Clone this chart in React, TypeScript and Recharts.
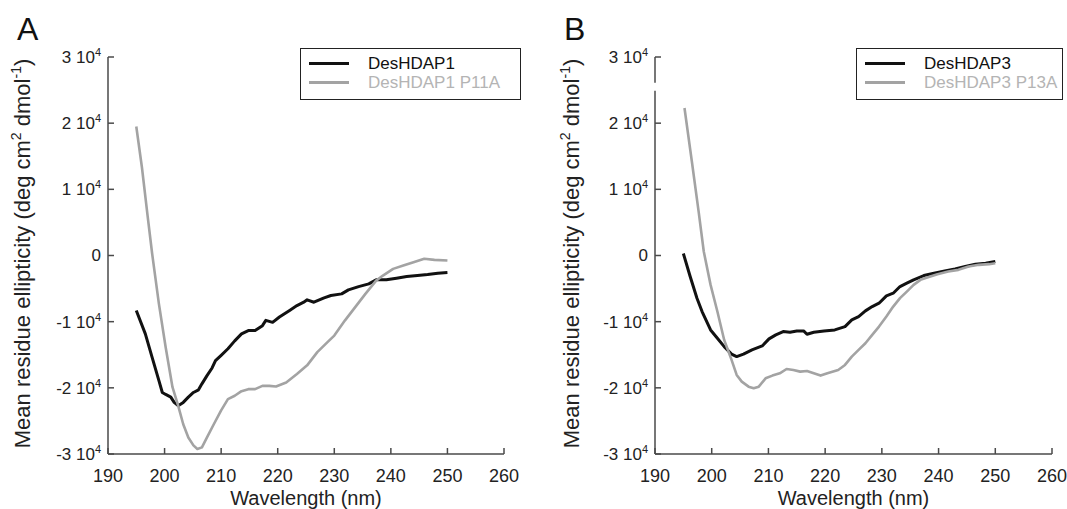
import React from 'react';
import { LineChart, Line, XAxis, YAxis, Legend, ReferenceLine } from 'recharts';

const FONT = '"Liberation Sans", Arial, Helvetica, sans-serif';
const AXIS = '#4a4a4a';
const BLACK = '#111111';
const GREY = '#a3a3a3';

const xTicks = [190, 200, 210, 220, 230, 240, 250, 260];
const yTicks = [-30000, -20000, -10000, 0, 10000, 20000, 30000];

// Panel A: DesHDAP1 (black)
const wlA1 = [195.0, 196.6, 197.8, 199.0, 199.6, 200.2, 201.1, 201.7, 202.4, 203.3, 204.2, 205.1, 206.0, 206.6, 207.5, 208.4, 209.0, 210.0, 211.2, 212.4, 213.6, 214.8, 216.0, 217.3, 217.9, 219.1, 220.3, 222.1, 223.4, 224.6, 225.2, 226.4, 228.2, 229.4, 231.3, 232.5, 234.3, 236.1, 237.4, 239.2, 241.0, 242.8, 244.7, 246.5, 248.3, 250.0];
const cdA1 = [-8300, -11850, -15400, -18900, -20700, -21000, -21400, -22200, -22700, -22200, -21400, -20700, -20300, -19400, -18150, -17000, -15900, -15100, -14100, -12900, -11850, -11350, -11350, -10600, -9800, -10100, -9300, -8300, -7570, -7060, -6700, -7060, -6400, -6050, -5800, -5200, -4700, -4290, -3680, -3680, -3430, -3180, -3030, -2870, -2670, -2570];

// Panel A: DesHDAP1 P11A (grey)
const wlA2 = [195.0, 196.0, 197.0, 197.8, 199.0, 200.2, 201.4, 202.4, 203.3, 204.2, 205.1, 205.8, 206.6, 207.5, 208.7, 210.0, 211.2, 212.4, 213.6, 214.8, 216.0, 217.3, 218.5, 219.7, 221.5, 223.4, 225.2, 227.0, 228.8, 230.0, 231.9, 233.7, 235.5, 237.4, 238.6, 240.4, 242.2, 244.0, 245.9, 247.7, 250.0];
const cdA2 = [19500, 13300, 6000, 300, -7300, -13900, -19900, -22700, -25500, -27500, -28700, -29250, -29000, -27500, -25500, -23400, -21700, -21200, -20500, -20200, -20200, -19700, -19700, -19800, -19200, -17900, -16600, -14600, -13100, -12100, -9800, -7800, -5800, -3800, -3030, -2020, -1510, -1010, -500, -660, -760];

// Panel B: DesHDAP3 (black)
const wlB1 = [195.0, 196.2, 197.4, 198.3, 199.8, 201.0, 202.2, 203.5, 204.4, 205.6, 207.1, 208.9, 210.1, 211.3, 212.6, 213.8, 215.0, 216.2, 216.8, 218.0, 219.8, 221.7, 223.5, 224.7, 225.9, 227.1, 228.3, 229.5, 230.8, 232.0, 233.2, 234.4, 235.6, 237.4, 239.2, 241.1, 242.9, 244.7, 246.5, 248.3, 250.0];
const cdB1 = [300, -3180, -6450, -8470, -11250, -12500, -13770, -14900, -15280, -14900, -14270, -13670, -12600, -12000, -11500, -11600, -11400, -11400, -11900, -11600, -11400, -11250, -10740, -9730, -9230, -8370, -7720, -7210, -6100, -5700, -4690, -4190, -3680, -3030, -2670, -2320, -2020, -1660, -1310, -1160, -910];

// Panel B: DesHDAP3 P13A (grey)
const wlB2 = [195.2, 196.5, 197.7, 198.6, 199.8, 201.0, 202.2, 203.5, 204.4, 205.3, 206.5, 207.4, 208.3, 209.5, 210.7, 212.0, 213.2, 214.4, 215.6, 216.8, 218.0, 219.2, 220.4, 222.3, 223.5, 224.7, 225.9, 227.1, 228.3, 229.5, 230.8, 232.0, 233.2, 234.4, 235.6, 236.8, 238.0, 239.8, 241.7, 243.5, 245.3, 247.1, 248.9, 250.0];
const cdB2 = [22300, 14200, 6600, 600, -4440, -8470, -12760, -15780, -18050, -19060, -19820, -20070, -19820, -18560, -18150, -17800, -17150, -17300, -17550, -17450, -17800, -18150, -17800, -17300, -16540, -15280, -14270, -13260, -12000, -10740, -9230, -7720, -6450, -5450, -4440, -3680, -3330, -2820, -2420, -2170, -1660, -1410, -1310, -1160];

const toRows = (wl: number[], cd: number[]) => wl.map((w, i) => ({ wl: w, cd: cd[i] }));

// ticks point inward, so the mark is drawn here next to the label
const X_GAP = 15;
const Y_GAP = 7;
const TICK_LEN = 6;

const XTick = ({ x, y, payload }: any) => (
  <g>
    <line x1={x} x2={x} y1={y - X_GAP} y2={y - X_GAP - TICK_LEN} stroke={AXIS} strokeWidth={1.5} />
    <text x={x} y={y} dy="0.71em" textAnchor="middle" fontSize={18} fontFamily={FONT} fill="#222">
      {payload.value}
    </text>
  </g>
);

const YTick = ({ x, y, payload }: any) => {
  const v = payload.value;
  return (
    <g>
      <line x1={x + Y_GAP} x2={x + Y_GAP + TICK_LEN} y1={y} y2={y} stroke={AXIS} strokeWidth={1.5} />
      <text x={x} y={y} dy="0.35em" textAnchor="end" fontSize={17} fontFamily={FONT} fill="#222">
        {v === 0 ? '0' : `${v / 10000} 10`}
        {v !== 0 && <tspan dy={-7} fontSize={11}>4</tspan>}
      </text>
    </g>
  );
};

const YTitle = ({ viewBox, bx }: any) => {
  const cx = viewBox.x + bx;
  const cy = viewBox.y + viewBox.height / 2 - 2;
  return (
    <text transform={`translate(${cx},${cy}) rotate(-90)`} textAnchor="middle" fontSize={22} fontFamily={FONT} fill="#222">
      {'Mean residue ellipticity (deg cm'}
      <tspan dy={-9} fontSize={14}>2</tspan>
      <tspan dy={9}>{' dmol'}</tspan>
      <tspan dy={-9} fontSize={14}>-1</tspan>
      <tspan dy={9}>)</tspan>
    </text>
  );
};

const XTitle = ({ viewBox }: any) => (
  <text x={viewBox.x + viewBox.width / 2} y={viewBox.y + 51} textAnchor="middle" fontSize={20} fontFamily={FONT} fill="#222">
    Wavelength (nm)
  </text>
);

const LegendBox = ({ payload, width }: any) => (
  <div
    style={{
      width,
      height: 52,
      boxSizing: 'border-box',
      border: '1.5px solid #222',
      background: '#fff',
      fontFamily: FONT,
      fontSize: 17,
      padding: '5px 0 0 8px',
    }}
  >
    {(payload || []).map((entry: any) => (
      <div key={entry.value} style={{ display: 'flex', alignItems: 'center', height: 19 }}>
        <span style={{ display: 'inline-block', width: 40, height: 3, background: entry.color, marginRight: 19 }} />
        <span style={{ color: entry.color === BLACK ? '#111' : '#b4b4b4', lineHeight: '19px', whiteSpace: 'nowrap' }}>
          {entry.value}
        </span>
      </div>
    ))}
  </div>
);

interface PanelProps {
  left: number;
  width: number;
  marginRight: number;
  letter: string;
  nameA: string;
  nameB: string;
  dataA: { wl: number; cd: number }[];
  dataB: { wl: number; cd: number }[];
  legendLeft: number;
  legendWidth: number;
  titleX: number;
  axisBreak?: boolean;
}

const Panel: React.FC<PanelProps> = ({
  left, width, marginRight, letter, nameA, nameB, dataA, dataB, legendLeft, legendWidth, titleX, axisBreak,
}) => (
  <div style={{ position: 'absolute', left, top: 0, width, height: 509 }}>
    <div
      style={{
        position: 'absolute', left: 17, top: 13, fontSize: 32, lineHeight: 1,
        fontFamily: FONT, color: '#111',
      }}
    >
      {letter}
    </div>
    <LineChart width={width} height={509} margin={{ top: 57, right: marginRight, bottom: 0, left: 0 }}>
      <XAxis
        type="number"
        dataKey="wl"
        domain={[190, 260]}
        ticks={xTicks}
        height={55}
        axisLine={{ stroke: AXIS, strokeWidth: 1.5 }}
        tickLine={false}
        tickSize={0}
        tickMargin={X_GAP}
        tick={<XTick />}
        label={(p: any) => <XTitle {...p} />}
      />
      <YAxis
        type="number"
        domain={[-30000, 30000]}
        ticks={yTicks}
        width={108}
        axisLine={axisBreak ? false : { stroke: AXIS, strokeWidth: 1.5 }}
        tickLine={false}
        tickSize={0}
        tickMargin={Y_GAP}
        tick={<YTick />}
        label={(p: any) => <YTitle {...p} bx={titleX} />}
      />
      {/* panel B: y axis drawn in two pieces to show the break near the top */}
      {axisBreak && (
        <ReferenceLine
          segment={[{ x: 190, y: 30000 }, { x: 190, y: 26100 }]}
          stroke={AXIS}
          strokeWidth={1.5}
        />
      )}
      {axisBreak && (
        <ReferenceLine
          segment={[{ x: 190, y: 24900 }, { x: 190, y: -30000 }]}
          stroke={AXIS}
          strokeWidth={1.5}
        />
      )}
      <Legend
        layout="vertical"
        verticalAlign="middle"
        align="center"
        wrapperStyle={{ left: legendLeft, top: 48, width: legendWidth }}
        content={(p: any) => <LegendBox {...p} width={legendWidth} />}
      />
      <Line
        data={dataA}
        dataKey="cd"
        name={nameA}
        type="linear"
        stroke={BLACK}
        strokeWidth={3}
        strokeLinejoin="round"
        dot={false}
        isAnimationActive={false}
      />
      <Line
        data={dataB}
        dataKey="cd"
        name={nameB}
        type="linear"
        stroke={GREY}
        strokeWidth={2.6}
        strokeLinejoin="round"
        dot={false}
        isAnimationActive={false}
      />
    </LineChart>
  </div>
);

export default function App() {
  return (
    <div
      style={{
        position: 'absolute', left: 0, top: 0, width: 1067, height: 509,
        background: '#fff', overflow: 'hidden',
      }}
    >
      <Panel
        left={0}
        width={545}
        marginRight={41}
        letter="A"
        nameA="DesHDAP1"
        nameB="DesHDAP1 P11A"
        dataA={toRows(wlA1, cdA1)}
        dataB={toRows(wlA2, cdA2)}
        legendLeft={300}
        legendWidth={221}
        titleX={30}
      />
      <Panel
        left={547}
        width={520}
        marginRight={15}
        letter="B"
        nameA="DesHDAP3"
        nameB="DesHDAP3 P13A"
        dataA={toRows(wlB1, cdB1)}
        dataB={toRows(wlB2, cdB2)}
        legendLeft={309}
        legendWidth={207}
        titleX={32}
        axisBreak
      />
    </div>
  );
}
